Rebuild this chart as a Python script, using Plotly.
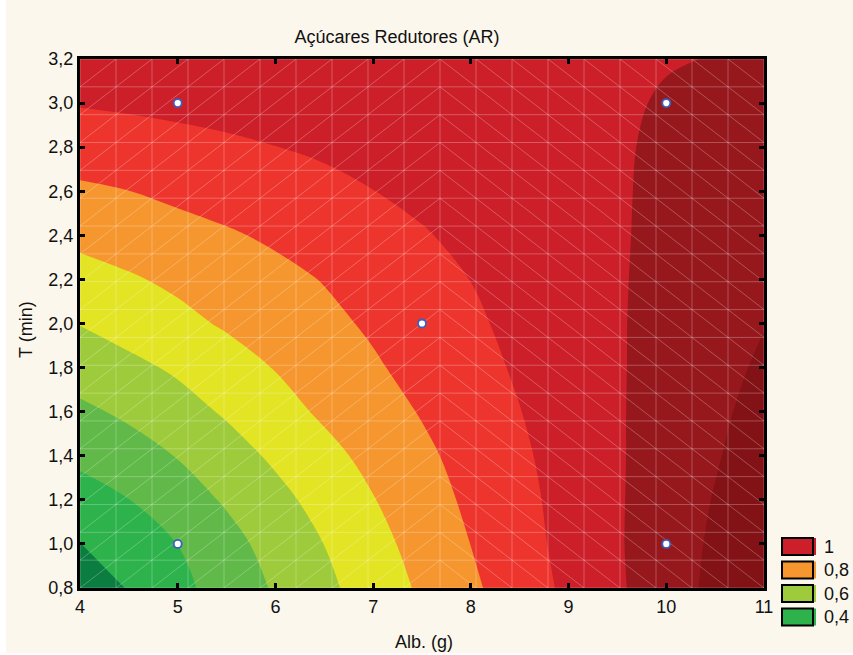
import numpy as np
import plotly.graph_objects as go

# ---- data ------------------------------------------------------------------
# fitted response surface of reducing sugars (AR) over Alb. (g) x T (min)
alb_g = [4.0, 4.5, 5.0, 5.5, 6.0, 6.5, 7.0, 7.5, 8.0, 8.5, 9.0, 9.5, 10.0, 10.5, 11.0]
t_min = [0.8, 1.0, 1.2, 1.4, 1.6, 1.8, 2.0, 2.2, 2.4, 2.6, 2.8, 3.0, 3.2]

ar_t08 = [0.237, 0.306, 0.374, 0.442, 0.510, 0.578, 0.646, 0.714, 0.783, 0.851, 0.919, 0.987, 1.055, 1.123, 1.191]
ar_t10 = [0.298, 0.350, 0.401, 0.468, 0.535, 0.601, 0.668, 0.735, 0.801, 0.864, 0.928, 0.991, 1.053, 1.115, 1.175]
ar_t12 = [0.361, 0.399, 0.454, 0.511, 0.572, 0.634, 0.696, 0.758, 0.818, 0.874, 0.932, 0.991, 1.048, 1.105, 1.160]
ar_t14 = [0.421, 0.462, 0.504, 0.560, 0.616, 0.672, 0.727, 0.781, 0.833, 0.885, 0.938, 0.991, 1.042, 1.093, 1.144]
ar_t16 = [0.482, 0.516, 0.563, 0.611, 0.664, 0.715, 0.760, 0.806, 0.852, 0.898, 0.945, 0.992, 1.037, 1.083, 1.129]
ar_t18 = [0.542, 0.577, 0.614, 0.659, 0.704, 0.747, 0.789, 0.830, 0.870, 0.911, 0.951, 0.992, 1.033, 1.073, 1.113]
ar_t20 = [0.603, 0.639, 0.675, 0.711, 0.745, 0.778, 0.813, 0.850, 0.886, 0.922, 0.957, 0.993, 1.028, 1.062, 1.097]
ar_t22 = [0.664, 0.690, 0.718, 0.746, 0.775, 0.804, 0.836, 0.868, 0.901, 0.931, 0.962, 0.993, 1.023, 1.052, 1.082]
ar_t24 = [0.724, 0.746, 0.768, 0.790, 0.814, 0.840, 0.867, 0.894, 0.919, 0.944, 0.968, 0.993, 1.018, 1.042, 1.066]
ar_t26 = [0.785, 0.799, 0.820, 0.839, 0.859, 0.879, 0.899, 0.918, 0.937, 0.956, 0.975, 0.994, 1.013, 1.032, 1.051]
ar_t28 = [0.845, 0.858, 0.872, 0.885, 0.899, 0.912, 0.926, 0.940, 0.954, 0.967, 0.981, 0.995, 1.008, 1.022, 1.035]
ar_t30 = [0.906, 0.914, 0.922, 0.930, 0.939, 0.947, 0.955, 0.963, 0.971, 0.979, 0.987, 0.995, 1.003, 1.011, 1.019]
ar_t32 = [0.967, 0.970, 0.972, 0.975, 0.977, 0.980, 0.983, 0.985, 0.988, 0.990, 0.993, 0.996, 0.998, 1.001, 1.003]

# experimental design points
design_alb = [5.0, 5.0, 10.0, 10.0, 7.5]
design_t = [1.0, 3.0, 1.0, 3.0, 2.0]

# contour levels and legend entries
level_start, level_end, level_step = 0.3, 1.1, 0.1
legend_levels = [1.0, 0.8, 0.6, 0.4]
legend_labels = ["1", "0,8", "0,6", "0,4"]

# ---- styling ---------------------------------------------------------------
band_colors = [
    "#0b7d40",  # < 0.3
    "#2db24c",  # 0.3-0.4
    "#60b948",  # 0.4-0.5
    "#9ecb3b",  # 0.5-0.6
    "#e3e424",  # 0.6-0.7
    "#f6962e",  # 0.7-0.8
    "#ed352d",  # 0.8-0.9
    "#cc1f29",  # 0.9-1.0
    "#96181d",  # 1.0-1.1
    "#821216",  # > 1.1
]
BG = "#fbf7ec"
FONT = "Liberation Sans, Arial, sans-serif"
W, H = 853, 655
ML, MR, MT, MB = 80, 89, 59, 67
PW, PH = W - ML - MR, H - MT - MB


def px_x(px):
    return (px - ML) / PW


def px_y(py):
    return (H - MB - py) / PH


ar_grid = [ar_t08, ar_t10, ar_t12, ar_t14, ar_t16, ar_t18, ar_t20,
           ar_t22, ar_t24, ar_t26, ar_t28, ar_t30, ar_t32]

# stepped colour scale: one flat colour per contour band
n_bands = len(band_colors)
scale = []
for k, c in enumerate(band_colors):
    lo = max(0.0, (k - 0.5) / (n_bands - 1))
    hi = min(1.0, (k + 0.5) / (n_bands - 1))
    scale += [[lo, c], [hi, c]]

fig = go.Figure()

fig.add_trace(go.Contour(
    x=alb_g, y=t_min, z=ar_grid,
    autocontour=False,
    contours=dict(start=level_start, end=level_end, size=level_step,
                  coloring="fill", showlines=False),
    colorscale=scale, showscale=False,
    line=dict(width=0, smoothing=1.0),
    hoverinfo="skip",
))

# triangulated surface mesh (19 x 19 cells, diagonals mirrored at the centre)
mx = np.linspace(alb_g[0], alb_g[-1], 20)
my = np.linspace(t_min[0], t_min[-1], 20)
lx, ly = [], []
for v in mx:
    lx += [v, v, None]
    ly += [my[0], my[-1], None]
for v in my:
    lx += [mx[0], mx[-1], None]
    ly += [v, v, None]
for i in range(19):
    for j in range(19):
        if i < 10:
            lx += [mx[i], mx[i + 1], None]
            ly += [my[j], my[j + 1], None]
        else:
            lx += [mx[i], mx[i + 1], None]
            ly += [my[j + 1], my[j], None]
fig.add_trace(go.Scatter(
    x=lx, y=ly, mode="lines",
    line=dict(color="rgba(255,255,255,0.26)", width=1),
    hoverinfo="skip", showlegend=False,
))

fig.add_trace(go.Scatter(
    x=design_alb, y=design_t, mode="markers",
    marker=dict(size=8, color="white", line=dict(color="#3b5fbf", width=1.8)),
    hoverinfo="skip", showlegend=False,
))

axis_common = dict(
    showline=True, linewidth=3, linecolor="black", mirror="ticks",
    ticks="inside", ticklen=5, tickwidth=3, tickcolor="black",
    showgrid=False, zeroline=False,
    tickfont=dict(family=FONT, size=18, color="#111111"),
)

shapes = [
    # cream panel behind everything
    dict(type="rect", xref="paper", yref="paper", layer="below",
         x0=px_x(6), x1=px_x(W + 2), y0=px_y(653), y1=px_y(-2),
         fillcolor=BG, line=dict(width=0)),
]
annotations = [
    dict(text="Alb. (g)", xref="paper", yref="paper", x=px_x(424), y=px_y(642),
         showarrow=False, xanchor="center", yanchor="middle",
         font=dict(family=FONT, size=18, color="#111111")),
    dict(text="T (min)", xref="paper", yref="paper", x=px_x(26), y=px_y(330),
         showarrow=False, textangle=-90, xanchor="center", yanchor="middle",
         font=dict(family=FONT, size=18, color="#111111")),
]

# legend: colour swatches with level labels
box_x0, box_x1 = 782, 813
for idx, (lev, lab) in enumerate(zip(legend_levels, legend_labels)):
    band = int(round((lev - level_start) / level_step))
    col = band_colors[band]
    top = 538 + idx * 23.5
    bot = top + 17
    shapes.append(dict(type="rect", xref="paper", yref="paper",
                       x0=px_x(box_x0), x1=px_x(box_x1), y0=px_y(bot), y1=px_y(top),
                       fillcolor=col, line=dict(color="black", width=2)))
    shapes.append(dict(type="line", xref="paper", yref="paper",
                       x0=px_x(box_x1 + 2), x1=px_x(box_x1 + 2),
                       y0=px_y(bot), y1=px_y(top),
                       line=dict(color=col, width=2)))
    annotations.append(dict(text=lab, xref="paper", yref="paper",
                            x=px_x(822), y=px_y((top + bot) / 2),
                            showarrow=False, xanchor="left", yanchor="middle",
                            font=dict(family=FONT, size=18, color="#111111")))

fig.update_layout(
    width=W, height=H,
    margin=dict(l=ML, r=MR, t=MT, b=MB),
    paper_bgcolor="white", plot_bgcolor=BG,
    separators=",.",
    showlegend=False,
    title=dict(text="Açúcares Redutores (AR)", xref="paper", yref="container",
               x=px_x(397), y=1 - 37 / H, xanchor="center", yanchor="middle",
               font=dict(family=FONT, size=18, color="#111111")),
    xaxis=dict(range=[4, 11], tick0=4, dtick=1, **axis_common),
    yaxis=dict(range=[0.8, 3.2], tick0=0.8, dtick=0.2, tickformat=".1f", **axis_common),
    shapes=shapes,
    annotations=annotations,
)

fig.write_html("out.html")
